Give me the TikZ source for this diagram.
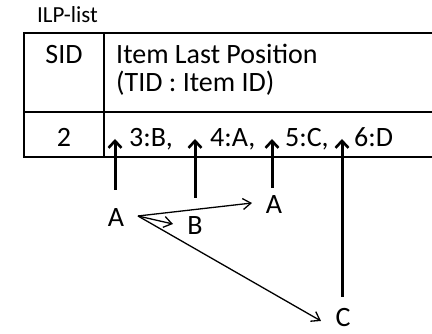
\documentclass[tikz,border=0pt]{standalone}
\usepackage{fontspec}
\setmainfont{Carlito}
\usetikzlibrary{arrows.meta}
\tikzset{
  tbl/.style={line width=2.2pt},
  txt/.style={inner sep=0pt, font=\fontsize{28}{33}\selectfont},
  small/.style={inner sep=0pt, font=\fontsize{23}{27}\selectfont},
  thick arrow/.style={line width=3pt, -{Straight Barb[length=7pt,width=13pt,line width=2.6pt]}},
  thin arrow/.style={line width=1.3pt, -{Straight Barb[length=8pt,width=11pt,line width=1.3pt]}},
}
\begin{document}
\begin{tikzpicture}[x=1pt,y=-1pt]
\useasboundingbox (0,0) rectangle (432,334);
% table
\draw[tbl] (432,33) -- (24,33) -- (24,157) -- (432,157);
\draw[tbl] (24,112) -- (432,112);
\draw[tbl] (104,33) -- (104,157);
% texts
\node[small, anchor=base west] (title) at (37,23) {ILP-list};
\node[txt, anchor=base] (sid) at (64,64) {SID};
\node[txt, anchor=base west] (ilp1) at (116,64) {Item Last Position};
\node[txt, anchor=base west] (ilp2) at (116,92) {(TID : Item ID)};
\node[txt, anchor=base] (two) at (64,147) {2};
\node[txt, anchor=base west] (i3) at (129,147) {3:B,};
\node[txt, anchor=base west] (i4) at (210,147) {4:A,};
\node[txt, anchor=base west] (i5) at (285,147) {5:C,};
\node[txt, anchor=base west] (i6) at (354,147) {6:D};
% letters
\node[txt] (a1) at (116,218) {A};
\node[txt] (b) at (195,226) {B};
\node[txt] (a2) at (274,205) {A};
\node[txt] (c) at (343,318) {C};
% thick arrow coordinates
\coordinate (s1) at (115,190);
\coordinate (t1) at (115,139);
\coordinate (s2) at (195,198);
\coordinate (t2) at (195,139);
\coordinate (s3) at (272,188);
\coordinate (t3) at (272,139);
\coordinate (s4) at (342,297);
\coordinate (t4) at (342,139);
\draw[thick arrow] (s1) -- (t1);
\draw[thick arrow] (s2) -- (t2);
\draw[thick arrow] (s3) -- (t3);
\draw[thick arrow] (s4) -- (t4);
% thin arrows
\coordinate (o) at (138,216);
\coordinate (ea) at (252,203);
\coordinate (eb) at (173,224);
\coordinate (ec) at (321,321);
\draw[thin arrow] (o) -- (ea);
\draw[thin arrow] (o) -- (eb);
\draw[thin arrow] (o) -- (ec);
\end{tikzpicture}
\end{document}
